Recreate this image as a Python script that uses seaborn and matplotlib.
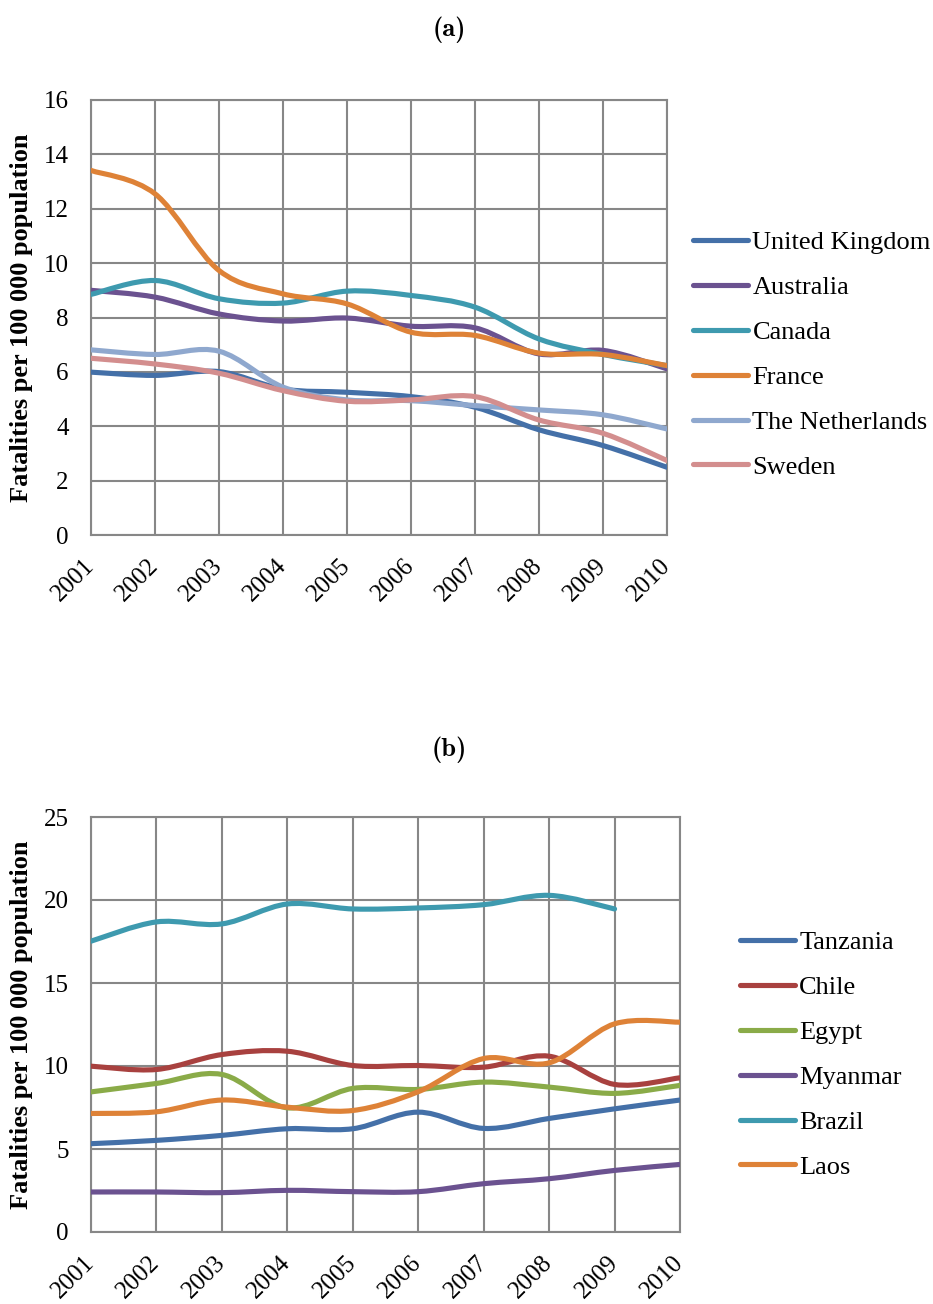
import os
import numpy as np
import pandas as pd
import seaborn as sns
import matplotlib
matplotlib.use("Agg")
import matplotlib.pyplot as plt
from matplotlib.path import Path
from matplotlib.patches import PathPatch
from matplotlib.lines import Line2D
from matplotlib.font_manager import FontProperties

# ---- data -------------------------------------------------------------
years = [2001, 2002, 2003, 2004, 2005, 2006, 2007, 2008, 2009, 2010]

# (a) high-income countries
united_kingdom = [5.99, 5.87, 6.01, 5.37, 5.25, 5.09, 4.70, 3.87, 3.29, 2.49]
australia      = [9.00, 8.75, 8.13, 7.87, 7.98, 7.68, 7.62, 6.66, 6.79, 6.11]
canada         = [8.85, 9.36, 8.69, 8.53, 8.97, 8.81, 8.38, 7.21, 6.64, 6.23]
france         = [13.41, 12.55, 9.73, 8.87, 8.50, 7.46, 7.34, 6.69, 6.64, 6.23]
netherlands    = [6.81, 6.64, 6.76, 5.44, 4.97, 4.94, 4.76, 4.60, 4.42, 3.90]
sweden         = [6.50, 6.29, 5.95, 5.31, 4.92, 4.97, 5.09, 4.23, 3.74, 2.74]

# (b) low- and middle-income countries
tanzania = [5.32, 5.52, 5.82, 6.22, 6.22, 7.22, 6.24, 6.84, 7.42, 7.95]
chile    = [9.99, 9.79, 10.69, 10.89, 10.03, 10.03, 9.93, 10.59, 8.89, 9.29]
egypt    = [8.44, 8.95, 9.49, 7.48, 8.65, 8.59, 9.03, 8.73, 8.35, 8.83]
myanmar  = [2.41, 2.41, 2.37, 2.51, 2.43, 2.43, 2.91, 3.21, 3.71, 4.07]
brazil   = [17.52, 18.68, 18.56, 19.76, 19.46, 19.52, 19.72, 20.28, 19.46, np.nan]
laos     = [7.14, 7.24, 7.95, 7.52, 7.32, 8.45, 10.45, 10.19, 12.54, 12.64]

panel_a = {
    "United Kingdom": united_kingdom,
    "Australia": australia,
    "Canada": canada,
    "France": france,
    "The Netherlands": netherlands,
    "Sweden": sweden,
}
panel_b = {
    "Tanzania": tanzania,
    "Chile": chile,
    "Egypt": egypt,
    "Myanmar": myanmar,
    "Brazil": brazil,
    "Laos": laos,
}

colors_a = ["#4470A8", "#6B5290", "#3E9AAF", "#DE8237", "#8FA8CE", "#D38E8E"]
colors_b = ["#4470A8", "#A8413F", "#8AAB48", "#6B5290", "#3E9AAF", "#DE8237"]

ylabel = "Fatalities per 100 000 population"

# ---- style ------------------------------------------------------------
sns.set_theme(style="white")
plt.rcParams["font.family"] = ["Liberation Serif", "DejaVu Serif"]
plt.rcParams["text.color"] = "black"
plt.rcParams["axes.labelcolor"] = "black"
plt.rcParams["xtick.color"] = "black"
plt.rcParams["ytick.color"] = "black"

GRID = "#878787"
FS = 18
LW = 3.7


def smooth_path(x, y):
    """Cubic Bezier path through the points (Catmull-Rom style smoothing)."""
    pts = np.column_stack([x, y])
    n = len(pts)
    verts = [pts[0]]
    codes = [Path.MOVETO]
    for i in range(n - 1):
        p0 = pts[i - 1] if i > 0 else pts[i]
        p1 = pts[i]
        p2 = pts[i + 1]
        p3 = pts[i + 2] if i + 2 < n else pts[i + 1]
        c1 = p1 + (p2 - p0) / 6.0
        c2 = p2 - (p3 - p1) / 6.0
        verts += [c1, c2, p2]
        codes += [Path.CURVE4] * 3
    return Path(verts, codes)


def draw_panel(ax, series, colors, ymax, ystep, ylabel_x):
    df = pd.DataFrame(series, index=years)
    for (name, col), c in zip(df.items(), colors):
        s = col.dropna()
        path = smooth_path(s.index.values.astype(float), s.values.astype(float))
        ax.add_patch(PathPatch(path, facecolor="none", edgecolor=c, lw=LW,
                               capstyle="round", joinstyle="round", zorder=3))
    ax.set_xlim(years[0], years[-1])
    ax.set_ylim(0, ymax)
    ax.set_xticks(years)
    ax.set_xticklabels([str(y) for y in years], rotation=45, ha="right",
                       va="center", rotation_mode="anchor", fontsize=FS)
    yt = np.arange(0, ymax + 0.1, ystep)
    ax.set_yticks(yt)
    ax.set_yticklabels([f"{v:g}" for v in yt], fontsize=FS)
    ax.grid(True, color=GRID, lw=1.5, zorder=1)
    for sp in ax.spines.values():
        sp.set_color(GRID)
        sp.set_linewidth(1.5)
    ax.tick_params(axis="both", direction="out", length=5, width=1.5,
                   color=GRID, labelcolor="black")
    ax.tick_params(axis="y", pad=11)
    ax.tick_params(axis="x", pad=15)
    ax.set_ylabel(ylabel, fontsize=19, fontweight="bold", color="black")
    ax.yaxis.set_label_coords(ylabel_x, 0.5)
    handles = [Line2D([], [], color=c, lw=LW, solid_capstyle="round")
               for c in colors]
    return handles, list(series.keys())


fig = plt.figure(figsize=(9.33, 13.04), dpi=100)
W, H = 933, 1304


def axes_px(left, top, right, bottom):
    return fig.add_axes([left / W, 1 - bottom / H, (right - left) / W,
                         (bottom - top) / H])


ax_a = axes_px(91, 100, 667, 535)
ax_b = axes_px(91, 817, 680, 1232)

h_a, l_a = draw_panel(ax_a, panel_a, colors_a, 16, 2, (33 - 91) / 576)
h_b, l_b = draw_panel(ax_b, panel_b, colors_b, 25, 5, (33 - 91) / 589)

leg_kw = dict(frameon=False, fontsize=19, handlelength=2.1, handletextpad=0.15,
              labelspacing=0.81, borderpad=0, borderaxespad=0, loc="upper left",
              labelcolor="black")
fig.legend(h_a, l_a, bbox_to_anchor=(693 / W, 1 - 231 / H), **leg_kw)
fig.legend(h_b, l_b, bbox_to_anchor=(740 / W, 1 - 931 / H), **leg_kw)

# panel captions in Computer Modern bold
cmb = FontProperties(fname=os.path.join(matplotlib.get_data_path(),
                                        "fonts", "ttf", "cmb10.ttf"), size=19)
fig.text(449 / W, 1 - 30 / H, "(a)", ha="center", va="center",
         fontproperties=cmb, color="black")
fig.text(449 / W, 1 - 750 / H, "(b)", ha="center", va="center",
         fontproperties=cmb, color="black")

fig.savefig("out.png", dpi=100, facecolor="white")
